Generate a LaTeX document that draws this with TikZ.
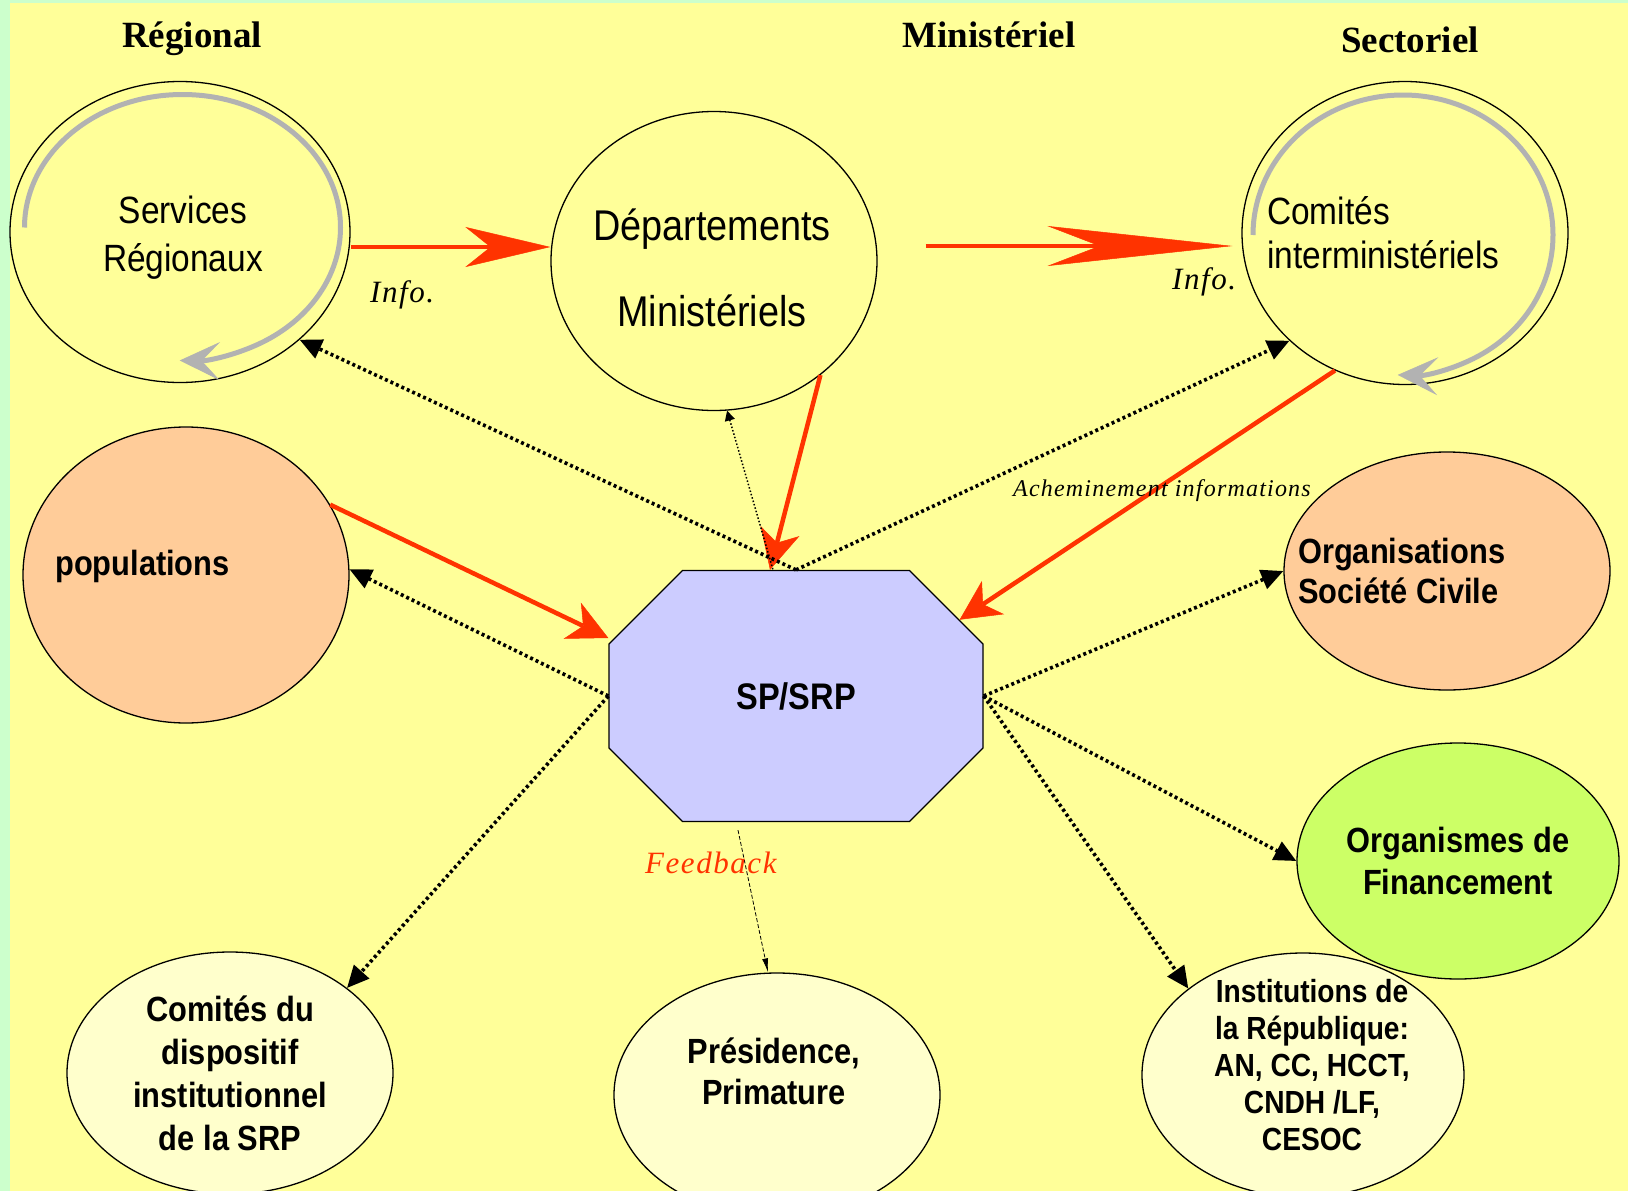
\documentclass[tikz,border=0pt]{standalone}
\usepackage{fontspec}
\setmainfont{Liberation Serif}
\newfontfamily\arialn[FakeStretch=0.88]{Liberation Sans}
\newfontfamily\infofont[LetterSpace=5]{Liberation Serif}
\usepackage{tikz}
\usetikzlibrary{positioning,shapes,arrows.meta}
\definecolor{bgyellow}{HTML}{FFFF99}
\definecolor{bggreen}{HTML}{CCFFCC}
\definecolor{peach}{HTML}{FFCC99}
\definecolor{finlime}{HTML}{CCFF66}
\definecolor{cream}{HTML}{FFFFCC}
\definecolor{lavender}{HTML}{CCCCFF}
\definecolor{infored}{HTML}{FF3300}
\definecolor{loopgrey}{HTML}{B2B2B2}
\tikzstyle{bub}=[draw, ellipse, line width=1.3pt, inner sep=0pt]
\tikzstyle{regtext}=[font=\arialn\fontsize{38}{48}\selectfont, align=center, inner sep=0pt]
\tikzstyle{boldtext}=[font=\arialn\bfseries\fontsize{35}{42}\selectfont, align=center, inner sep=0pt]
\tikzstyle{header}=[font=\bfseries\fontsize{37}{44}\selectfont, anchor=base]
\tikzstyle{infolab}=[font=\infofont\itshape\fontsize{31}{36}\selectfont, anchor=base west, inner sep=0pt]
\tikzstyle{redflow}=[draw=infored, line width=4.5pt, -{Stealth[length=40pt,width=40pt,inset=12pt,line width=0.5pt]}]
\tikzstyle{link}=[line width=3.6pt, dash pattern=on 3pt off 3pt, -{Triangle[length=22pt,width=20pt]}]
\tikzstyle{loopline}=[draw=loopgrey, line width=5pt, -{Stealth[length=40pt,width=38pt,inset=18pt,line width=0.5pt]}]

\begin{document}
\begin{tikzpicture}[x=1pt,y=-1pt,>=latex]
\useasboundingbox (0,0) rectangle (1628,1191);
\fill[bgyellow] (0,0) rectangle (1628,1191);
\fill[bggreen] (0,0) rectangle (10,1191);
\fill[bggreen] (0,0) rectangle (1628,3);

\node[header] (hreg) at (192,47) {Régional};
\node[header] (hmin) at (989,47) {Ministériel};
\node[header] (hsec) at (1410,52) {Sectoriel};

\node[bub, fill=bgyellow, minimum width=340pt, minimum height=301pt] (srv) at (180,232) {};
\draw[loopline] ([xshift=-155.5pt,yshift=4.5pt]srv.center) arc[start angle=180, end angle=-91, x radius=158pt, y radius=133pt];
\node[regtext] (srvtxt) at ([xshift=3pt,yshift=-6pt]srv.center) {Services\\Régionaux};

\node[bub, fill=bgyellow, minimum width=326pt, minimum height=299pt] (dep) at (714,261) {};
\node[regtext, font=\arialn\fontsize{43}{86}\selectfont] (deptxt) at ([xshift=-2pt,yshift=-7pt]dep.center) {Départements\\Ministériels};

\node[bub, fill=bgyellow, minimum width=326pt, minimum height=303pt] (cmt) at (1405,233) {};
\draw[loopline] ([xshift=-152pt,yshift=-2pt]cmt.center) arc[start angle=180, end angle=-92, x radius=150pt, y radius=140pt];
\node[regtext, align=left, anchor=west, font=\arialn\fontsize{38}{44}\selectfont] (cmttxt) at ([xshift=-138pt]cmt.center) {Comités\\interministériels};

\node[bub, fill=peach, minimum width=326pt, minimum height=296pt] (pop) at (186,575) {};
\node[boldtext, anchor=west] (poptxt) at ([xshift=-131pt,yshift=9pt]pop.center) {populations};

\node[bub, fill=peach, minimum width=326pt, minimum height=238pt] (org) at (1447,571) {};
\node[boldtext, align=left, anchor=west, font=\arialn\bfseries\fontsize{35}{40}\selectfont] (orgtxt) at ([xshift=-149pt]org.center) {Organisations\\Société Civile};

\node[bub, fill=finlime, minimum width=322pt, minimum height=236pt, boldtext] (fin) at (1458,861) {Organismes de\\Financement};

\node[bub, fill=cream, minimum width=326pt, minimum height=242pt, boldtext, font=\arialn\bfseries\fontsize{35}{43}\selectfont] (cdi) at (230,1073) {Comités du\\dispositif\\institutionnel\\de la SRP};

\node[bub, fill=cream, minimum width=326pt, minimum height=244pt] (pres) at (777,1095) {};
\node[boldtext, font=\arialn\bfseries\fontsize{35}{41}\selectfont] (prestxt) at ([xshift=-3pt,yshift=24pt]pres.center) {Présidence,\\Primature};

\node[bub, fill=cream, minimum width=322pt, minimum height=244pt] (inst) at (1303,1075) {};
\node[boldtext, font=\arialn\bfseries\fontsize{32}{37}\selectfont] (insttxt) at ([xshift=9pt,yshift=10pt]inst.center) {Institutions de\\la République:\\AN, CC, HCCT,\\CNDH /LF,\\CESOC};

\node[chamfered rectangle, chamfered rectangle xsep=80pt, chamfered rectangle ysep=72pt, draw, fill=lavender, line width=1.3pt, minimum width=374pt, minimum height=251pt, inner sep=0pt, font=\arialn\bfseries\fontsize{37}{44}\selectfont] (sp) at (796,696) {SP/SRP};

% flux d'information
\draw[redflow, -{Stealth[length=85pt,width=40pt,inset=25pt,line width=0.5pt]}] ([yshift=-15pt]srv.east) -- ([yshift=14pt]dep.west);
\draw[redflow, -{Stealth[length=185pt,width=40pt,inset=52pt,line width=0.5pt]}] ([xshift=48pt,yshift=15pt]dep.east) -- ([xshift=-9pt,yshift=-13pt]cmt.west);
\draw[redflow] (dep.-47) -- ([xshift=-26pt]sp.north);
\draw[redflow] (cmt.-117) -- (sp.25);
\draw[redflow] (pop.26) -- ([yshift=58pt]sp.west);

\draw[link] (sp.north) -- (srv.-42);
\draw[link] (sp.north) -- (cmt.-137);
\draw[link] (sp.west) -- (pop.2);
\draw[link] (sp.west) -- (cdi.36);
\draw[link] (sp.east) -- (org.west);
\draw[link] (sp.east) -- (fin.west);
\draw[link] (sp.east) -- (inst.143);
\draw[line width=1.5pt, dash pattern=on 1.5pt off 2pt, {Triangle[length=10pt,width=10pt]}-] (dep.-85) -- ([xshift=-23pt]sp.north);
\draw[line width=0.8pt, dash pattern=on 4pt off 2pt, -{Latex[length=14pt,width=6pt]}] ([xshift=-58pt,yshift=-8pt]sp.south) -- ([xshift=-9pt]pres.north);

\node[infolab] (info1) at (370,302) {Info.};
\node[infolab] (info2) at (1172,289) {Info.};
\node[infolab, font=\infofont\itshape\fontsize{24}{30}\selectfont] (achem) at (1013,496) {Acheminement informations};
\node[infolab, text=infored] (fback) at (645,873) {Feedback};
\end{tikzpicture}
\end{document}
